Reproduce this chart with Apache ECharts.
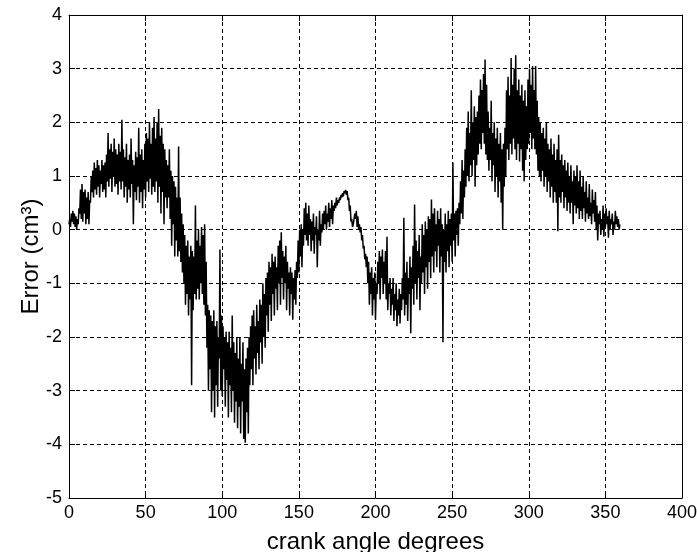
<!DOCTYPE html>
<html>
<head>
<meta charset="utf-8">
<title>Error vs crank angle</title>
<script src="https://cdn.jsdelivr.net/npm/echarts@6/dist/echarts.min.js"></script>
<style>
  html, body { margin: 0; padding: 0; background: #fff; }
  #chart { width: 697px; height: 552px; }
</style>
</head>
<body>
<div id="chart"></div>
<script>
// x tick positions (degrees) and y tick positions (cm^3)
var xTicks = [0, 50, 100, 150, 200, 250, 300, 350, 400]
var yTicks = [-5, -4, -3, -2, -1, 0, 1, 2, 3, 4]

// per degree (0..359): lower and upper swing of the noisy error signal
var lowVals = [
  0.1, 0.05, 0.15, 0.1, 0.05, 0.0, 0.1, 0.3, 0.2, 0.15,
  0.3, 0.1, 0.2, 0.1, 0.5, 0.7, 0.6, 0.75, 0.65, 0.8,
  0.6, 0.85, 0.7, 0.75, 0.6, 0.9, 0.8, 0.95, 0.7, 1.0,
  0.8, 0.85, 0.65, 0.9, 0.75, 0.9, 0.6, 0.8, 0.5, 0.75,
  0.6, 0.85, 0.1, 0.7, 0.55, 0.8, 0.5, 0.7, 0.4, 0.75,
  0.6, 0.9, 0.7, 0.95, 0.65, 0.8, 0.7, 0.9, 0.5, 0.8,
  0.3, 0.7, 0.1, 0.6, 0.4, 0.6, 0.2, -0.3, 0.1, -0.5,
  -0.2, -0.5, -0.4, -0.6, -0.8, -1.0, -1.4, -1.2, -1.6, -1.3,
  -2.9, -1.5, -1.2, -1.3, -1.1, -1.3, -1.0, -1.2, -1.4, -1.6,
  -2.2, -3.0, -2.6, -3.4, -3.0, -3.5, -2.9, -3.3, -2.4, -3.0,
  -3.1, -2.6, -3.3, -2.8, -3.5, -2.9, -3.4, -3.0, -3.6, -3.2,
  -3.7, -3.3, -3.8, -3.2, -3.9, -3.97, -3.4, -3.8, -2.9, -2.6,
  -2.9, -2.4, -2.7, -2.3, -2.6, -2.1, -2.5, -2.0, -2.2, -1.6,
  -1.9, -1.4, -1.7, -1.2, -1.6, -1.1, -1.5, -1.0, -1.4, -0.9,
  -1.3, -1.0, -1.5, -1.1, -1.6, -1.2, -1.68, -1.3, -1.4, -0.9,
  -0.8, -0.5, -0.7, -0.3, -0.1, -0.2, -0.3, -0.1, -0.4, -0.2,
  -0.45, -0.1, -0.7, -0.2, -0.3, -0.05, 0.0, 0.1, 0.0, 0.15,
  0.05, 0.2, 0.1, 0.35, 0.4, 0.45, 0.5, 0.55, 0.6, 0.62,
  0.68, 0.65, 0.55, 0.35, 0.15, 0.05, 0.1, 0.2, 0.05, 0.0,
  -0.05, -0.2, -0.35, -0.55, -0.7, -1.0, -1.4, -1.2, -1.6, -1.3,
  -1.68, -1.2, -1.0, -1.3, -0.9, -1.2, -1.0, -1.3, -1.5, -1.2,
  -1.6, -1.4, -1.7, -1.5, -1.8, -1.6, -1.75, -1.5, -1.3, -1.6,
  -1.4, -1.7, -1.2, -1.93, -1.1, -1.4, -1.0, -1.3, -0.9, -1.5,
  -1.0, -0.8, -1.2, -0.7, -1.1, -0.6, -0.9, -0.5, -0.8, -0.4,
  -0.7, -0.3, -0.8, -0.5, -2.1, -0.6, -0.8, -0.4, -0.7, -0.3,
  -0.6, -0.2, -0.5, -0.1, -0.3, 0.1, 0.3, 0.2, 0.6, 0.8,
  1.0, 0.9, 1.2, 1.0, 1.3, 0.8, 1.2, 1.4, 1.6, 1.5,
  1.8, 1.6, 1.4, 1.3, 1.1, 1.3, 0.9, 1.2, 0.7, 1.0,
  0.6, 0.9, 0.5, 0.0, 0.8, 1.0, 1.5, 1.3, 1.6, 1.4,
  1.7, 1.5, 1.3, 1.6, 1.27, 1.5, 1.1, 0.9, 1.3, 1.5,
  1.6, 1.8, 1.5, 1.7, 1.5, 1.4, 1.1, 1.0, 0.9, 1.1,
  0.8, 1.0, 0.7, 0.9, 0.6, 0.8, 0.5, 0.7, 0.5, -0.03,
  0.6, 0.5, 0.7, 0.4, 0.6, 0.35, 0.5, 0.3, 0.5, 0.1,
  0.45, 0.3, 0.4, 0.2, 0.35, 0.2, 0.4, 0.15, 0.3, 0.2,
  0.25, 0.1, 0.3, 0.15, 0.0, -0.2, 0.1, -0.1, 0.0, -0.13,
  0.05, 0.1, -0.15, 0.0, 0.1, -0.1, 0.0, 0.1, 0.05, 0.0
]
var highVals = [
  0.2, 0.3, 0.35, 0.3, 0.25, 0.2, 0.4, 0.75, 0.85, 0.7,
  0.75, 0.6, 0.7, 0.55, 1.0, 1.1, 1.25, 1.15, 1.3, 1.2,
  1.1, 1.3, 1.2, 1.25, 1.4, 1.8, 1.5, 1.6, 1.45, 1.7,
  1.5, 1.4, 1.6, 1.45, 2.05, 1.5, 1.35, 1.6, 1.3, 1.4,
  1.7, 1.3, 1.2, 1.45, 1.35, 1.9, 1.4, 1.5, 1.3, 1.6,
  1.8, 1.7, 2.0, 1.6, 1.9, 2.1, 1.7, 2.0, 2.25, 1.75,
  1.9, 1.6, 1.5, 1.3, 1.2, 1.5, 1.1, 1.0, 0.9, 0.8,
  0.6, 1.55, 0.6, 0.3, 0.1, -0.1, -0.3, -0.2, -0.5, -0.3,
  -0.4, -0.5, 0.45, -0.2, 0.0, -0.3, 0.05, -0.1, 0.1, -0.6,
  -1.4, -1.5, -1.6, -1.7, -1.5, -1.8, -1.7, -2.0, -0.37, -1.6,
  -1.8, -2.0, -1.9, -2.1, -1.9, -2.2, -1.6, -2.1, -2.3, -2.0,
  -2.4, -2.0, -2.5, -2.1, -2.6, -2.4, -2.2, -2.0, -1.8, -1.6,
  -1.5, -1.8, -1.4, -1.7, -1.3, -1.4, -1.0, -1.2, -0.9, -0.8,
  -0.6, -0.7, -0.45, -0.6, -0.5, -0.7, -0.3, -0.2, -0.05, -0.4,
  -0.5, -0.3, -0.6, -0.8, -0.7, -0.8, -0.9, -0.75, -0.6, -0.2,
  0.0, 0.1, 0.0, 0.4, 0.5, 0.3, 0.45, 0.2, 0.15, 0.3,
  0.05, 0.25, 0.0, 0.35, 0.1, 0.3, 0.35, 0.45, 0.3, 0.5,
  0.4, 0.55, 0.45, 0.5, 0.6, 0.55, 0.6, 0.65, 0.68, 0.72,
  0.74, 0.72, 0.6, 0.45, 0.2, 0.1, 0.3, 0.35, 0.25, 0.1,
  0.05, -0.1, -0.3, -0.45, -0.5, -0.6, -0.8, -0.7, -0.9, -0.8,
  -1.0, -0.6, -0.4, -0.5, -0.37, -0.6, -0.4, -0.13, -1.0, -0.9,
  -1.1, -0.9, -1.2, -1.0, -1.3, -1.1, -1.2, -0.9, 0.22, -0.8,
  -0.6, -0.9, -0.5, -0.7, -0.3, 0.47, -0.2, -0.4, -0.1, -0.5,
  0.1, -0.1, 0.15, 0.0, 0.25, 0.2, 0.56, 0.3, 0.4, 0.1,
  0.35, 0.2, 0.4, 0.1, 0.0, 0.3, 0.1, 0.35, 0.2, 0.3,
  1.25, 0.3, 0.35, 0.4, 0.5, 0.9, 1.3, 1.1, 1.5, 1.9,
  2.2, 1.8, 2.6, 2.0, 2.3, 2.1, 2.2, 2.5, 2.8, 2.6,
  2.9, 3.17, 2.7, 2.2, 1.9, 2.4, 1.8, 2.0, 1.7, 1.9,
  1.6, 1.8, 1.5, 1.6, 1.9, 2.6, 2.85, 2.5, 3.2, 2.7,
  3.0, 3.25, 2.6, 2.8, 2.5, 2.7, 2.4, 2.6, 2.3, 2.8,
  3.0, 2.7, 3.05, 2.6, 3.05, 2.4, 2.1, 2.0, 1.8, 1.9,
  1.7, 2.0, 1.6, 1.5, 1.7, 1.4, 1.6, 1.3, 1.5, 1.77,
  1.3, 1.4, 1.2, 1.3, 1.1, 1.25, 1.0, 1.2, 0.9, 1.1,
  1.0, 1.2, 0.9, 1.1, 0.8, 1.0, 0.7, 0.9, 0.6, 0.85,
  0.5, 0.75, 0.55, 0.7, 0.45, 0.3, 0.35, 0.2, 0.45, 0.3,
  0.4, 0.25, 0.35, 0.2, 0.3, 0.15, 0.35, 0.25, 0.2, 0.1
]

;(function () {
  var myChart = echarts.init(document.getElementById('chart'))
  var font = '"Liberation Sans", Arial, sans-serif'

  // zigzag through low and high swing of each degree
  var points = []
  for (var i = 0; i < lowVals.length; i++) {
    points.push([i, lowVals[i]])
    points.push([i + 0.5, highVals[i]])
  }

  var xMin = xTicks[0], xMax = xTicks[xTicks.length - 1]
  var yMin = yTicks[0], yMax = yTicks[yTicks.length - 1]
  var axisLine = { show: true, onZero: false, lineStyle: { color: '#000', width: 1 } }
  var tick = { show: true, inside: true, length: 6, lineStyle: { color: '#000' } }
  var grid = { show: true, lineStyle: { color: '#000', width: 1, type: [4, 3] } }

  var option = {
    animation: false,
    backgroundColor: '#fff',
    // fixed plot box, no auto shrinking for labels
    grid: { left: 69, right: 15, top: 15, bottom: 54, outerBoundsMode: 'none', containLabel: false },
    xAxis: [
      {
        type: 'value',
        min: xMin,
        max: xMax,
        interval: 50,
        position: 'bottom',
        axisLine: axisLine,
        axisTick: tick,
        splitLine: grid,
        axisLabel: { color: '#000', fontSize: 18, fontFamily: font, margin: 6, showMinLabel: true, showMaxLabel: true },
        name: 'crank angle degrees',
        nameLocation: 'middle',
        nameGap: 32,
        nameMoveOverlap: false,
        nameTextStyle: { color: '#000', fontSize: 24, fontFamily: font }
      },
      {
        type: 'value',
        min: xMin,
        max: xMax,
        interval: 50,
        position: 'top',
        axisLine: axisLine,
        axisTick: tick,
        splitLine: { show: false },
        axisLabel: { show: false }
      }
    ],
    yAxis: [
      {
        type: 'value',
        min: yMin,
        max: yMax,
        interval: 1,
        position: 'left',
        axisLine: axisLine,
        axisTick: tick,
        splitLine: grid,
        axisLabel: { color: '#000', fontSize: 18, fontFamily: font, margin: 7, showMinLabel: true, showMaxLabel: true },
        name: 'Error (cm³)',
        nameLocation: 'middle',
        nameRotate: 90,
        nameGap: 26,
        nameMoveOverlap: false,
        nameTextStyle: { color: '#000', fontSize: 24, fontFamily: font }
      },
      {
        type: 'value',
        min: yMin,
        max: yMax,
        interval: 1,
        position: 'right',
        axisLine: axisLine,
        axisTick: tick,
        splitLine: { show: false },
        axisLabel: { show: false }
      }
    ],
    series: [
      {
        name: 'Error',
        type: 'line',
        xAxisIndex: 0,
        yAxisIndex: 0,
        data: points,
        showSymbol: false,
        symbol: 'none',
        sampling: null,
        lineStyle: { color: '#000', width: 1.5 }
      }
    ]
  }

  myChart.setOption(option)
  window.addEventListener('resize', function () {
    myChart.resize()
  })
})()
</script>
</body>
</html>
